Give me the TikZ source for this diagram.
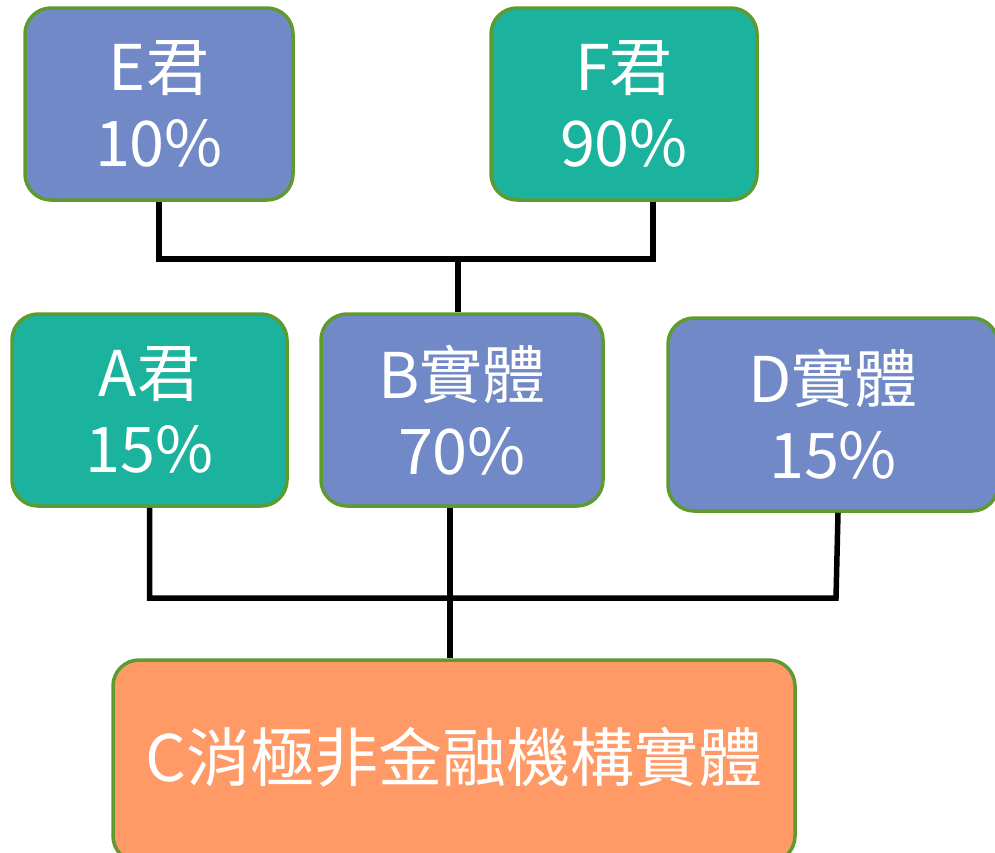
\documentclass[tikz,border=0pt]{standalone}
\usepackage{fontspec}
\setmainfont{Noto Sans CJK TC}
\usetikzlibrary{calc}
\definecolor{boxblue}{RGB}{114,137,199}
\definecolor{boxteal}{RGB}{27,179,158}
\definecolor{boxorange}{RGB}{255,154,102}
\definecolor{boxedge}{RGB}{94,154,46}
\tikzset{
  box/.style={draw=boxedge, line width=3.5pt, rounded corners=26pt, text=white,
    align=center, inner sep=0pt, font=\fontsize{63}{76}\selectfont},
  conn/.style={line width=5.5pt, black}
}
\begin{document}
\begin{tikzpicture}[x=1pt,y=-1pt]
\useasboundingbox (0,0) rectangle (995,852);
\node[box, fill=boxblue, minimum width=268pt, minimum height=192pt] (E) at (159,104) {E君\\10\%};
\node[box, fill=boxteal, minimum width=266pt, minimum height=192pt] (F) at (624,104) {F君\\90\%};
\node[box, fill=boxteal, minimum width=275pt, minimum height=192pt] (A) at (149.5,410) {A君\\15\%};
\node[box, fill=boxblue, minimum width=282pt, minimum height=192pt] (B) at (462,410) {B實體\\70\%};
\node[box, fill=boxblue, minimum width=330pt, minimum height=193pt] (D) at (833,414.5) {D實體\\15\%};
\node[box, fill=boxorange, minimum width=682pt, minimum height=202pt] (C) at (454,761) {};
\node[text=white, font=\fontsize{64}{76}\selectfont, inner sep=0pt] (Ct) at (454,757) {C消極非金融機構實體};
\coordinate (j1) at (458,259);
\coordinate (j2) at (450,598);
\draw[conn] (E.south) -- (E.south |- j1) -- ($(F.south |- j1)+(29,0)$) -- ($(F.south)+(29,0)$);
\draw[conn] (j1) -- (j1 |- B.north);
\draw[conn] (A.south) -- (A.south |- j2) -- ($(D.south |- j2)+(3,0)$) -- ($(D.south)+(5,0)$);
\draw[conn] ($(B.south)+(-12,0)$) -- ($(C.north)+(-4,0)$);
\end{tikzpicture}
\end{document}
